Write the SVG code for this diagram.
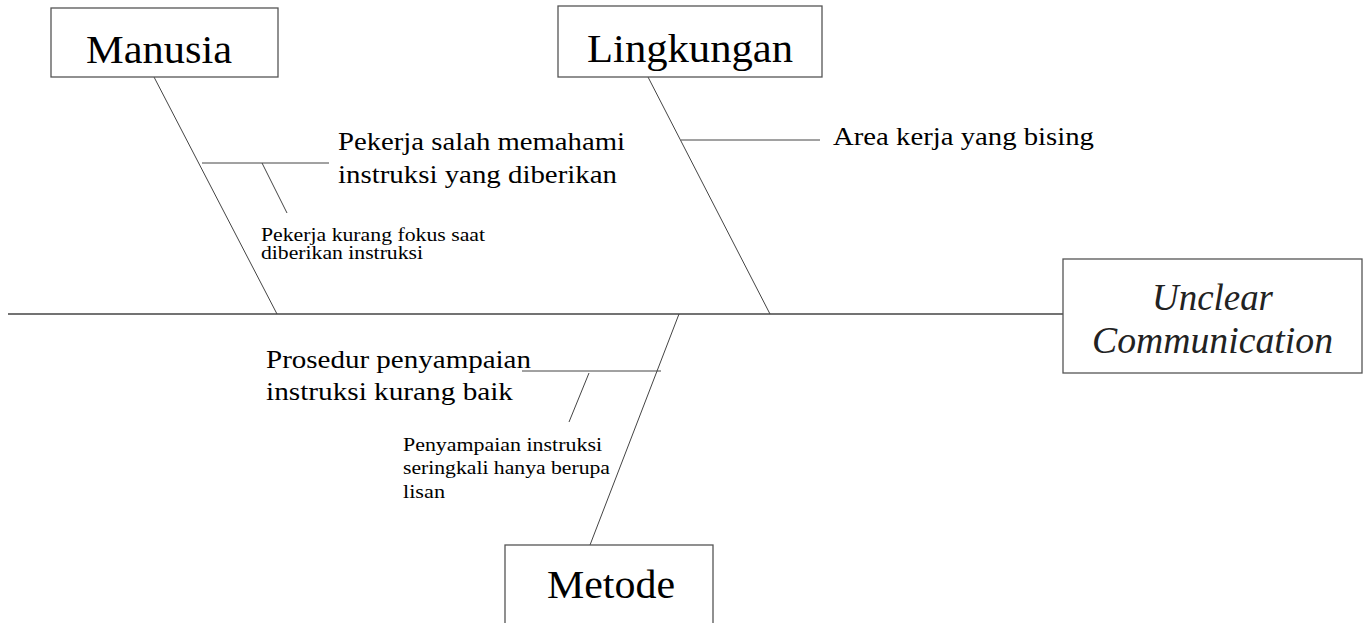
<svg xmlns="http://www.w3.org/2000/svg" width="1366" height="623" viewBox="0 0 1366 623">
  <style>
    .box { fill: #ffffff; stroke: #555555; stroke-width: 1.3; }
    .bone { stroke: #444444; stroke-width: 1; fill: none; }
    .spine { stroke: #444444; stroke-width: 1.3; fill: none; }
    .head { font-family: "Liberation Serif", "Times New Roman", serif; font-size: 40px; fill: #000000; }
    .cause { font-family: "Liberation Serif", "Times New Roman", serif; font-size: 25px; fill: #000000; }
    .sub { font-family: "Liberation Serif", "Times New Roman", serif; font-size: 18px; fill: #000000; }
    .effect { font-family: "Liberation Serif", "Times New Roman", serif; font-style: italic; font-size: 38px; fill: #222222; }
  </style>
  <rect width="1366" height="623" fill="#ffffff"/>

  <!-- fishbone lines -->
  <g id="connectors">
    <line class="spine" x1="8" y1="314" x2="1063" y2="314"/>
    <!-- Manusia bone and its branches -->
    <line class="bone" x1="154" y1="77" x2="277" y2="314"/>
    <line class="bone" x1="202" y1="163" x2="329" y2="163"/>
    <line class="bone" x1="262" y1="163" x2="287" y2="213"/>
    <!-- Lingkungan bone and its branch -->
    <line class="bone" x1="648" y1="77" x2="770" y2="314"/>
    <line class="bone" x1="681" y1="140" x2="820" y2="140"/>
    <!-- Metode bone and its branches -->
    <line class="bone" x1="679" y1="314" x2="590" y2="545"/>
    <line class="bone" x1="522" y1="371" x2="661" y2="371"/>
    <line class="bone" x1="589" y1="373" x2="569" y2="422"/>
  </g>

  <g id="manusia">
    <rect class="box" x="51" y="8" width="227" height="69"/>
    <text class="head" x="86" y="63" textLength="146" lengthAdjust="spacingAndGlyphs">Manusia</text>
  </g>

  <g id="lingkungan">
    <rect class="box" x="558" y="6" width="264" height="71"/>
    <text class="head" x="587" y="62" textLength="206" lengthAdjust="spacingAndGlyphs">Lingkungan</text>
  </g>

  <g id="metode">
    <rect class="box" x="505" y="545" width="208" height="90"/>
    <text class="head" x="547" y="598" textLength="128" lengthAdjust="spacingAndGlyphs">Metode</text>
  </g>

  <g id="unclear-communication">
    <rect class="box" x="1063" y="259" width="299" height="114"/>
    <text class="effect" x="1152" y="310" textLength="121" lengthAdjust="spacingAndGlyphs">Unclear</text>
    <text class="effect" x="1092" y="353" textLength="241" lengthAdjust="spacingAndGlyphs">Communication</text>
  </g>

  <g id="cause-salah-memahami">
    <text class="cause" x="338" y="150" textLength="287" lengthAdjust="spacingAndGlyphs">Pekerja salah memahami</text>
    <text class="cause" x="338" y="183" textLength="279" lengthAdjust="spacingAndGlyphs">instruksi yang diberikan</text>
  </g>

  <g id="cause-kurang-fokus">
    <text class="sub" x="261" y="241" textLength="224" lengthAdjust="spacingAndGlyphs">Pekerja kurang fokus saat</text>
    <text class="sub" x="261" y="259" textLength="162" lengthAdjust="spacingAndGlyphs">diberikan instruksi</text>
  </g>

  <g id="cause-area-bising">
    <text class="cause" x="833" y="145" textLength="261" lengthAdjust="spacingAndGlyphs">Area kerja yang bising</text>
  </g>

  <g id="cause-prosedur">
    <text class="cause" x="266" y="368" textLength="265" lengthAdjust="spacingAndGlyphs">Prosedur penyampaian</text>
    <text class="cause" x="266" y="400" textLength="247" lengthAdjust="spacingAndGlyphs">instruksi kurang baik</text>
  </g>

  <g id="cause-lisan">
    <text class="sub" x="403" y="451" textLength="199" lengthAdjust="spacingAndGlyphs">Penyampaian instruksi</text>
    <text class="sub" x="403" y="474" textLength="207" lengthAdjust="spacingAndGlyphs">seringkali hanya berupa</text>
    <text class="sub" x="403" y="498" textLength="42" lengthAdjust="spacingAndGlyphs">lisan</text>
  </g>
</svg>
